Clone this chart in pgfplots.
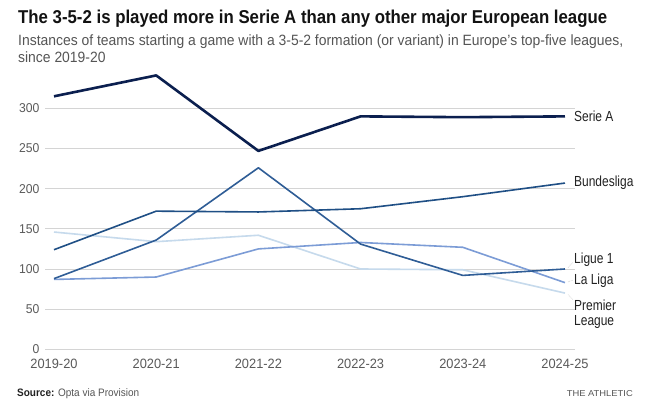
\documentclass[border=0pt]{standalone}
\usepackage{pgfplots}
\pgfplotsset{compat=1.18}
\usepackage{fontspec}
\setmainfont{Liberation Sans}
\newfontfamily\labfont{Liberation Sans}[FakeStretch=0.82]
\newfontfamily\tickfont{Liberation Sans}[FakeStretch=0.95]
\definecolor{seriea}{HTML}{0B1F4F}
\definecolor{bundes}{HTML}{1F4F85}
\definecolor{ligue}{HTML}{2F5D96}
\definecolor{laliga}{HTML}{7C9CD6}
\definecolor{premier}{HTML}{C6DAEC}
\definecolor{titlecol}{HTML}{121212}
\definecolor{subcol}{HTML}{555555}
\definecolor{tickgray}{HTML}{5A5A5A}
\definecolor{gridgray}{HTML}{D4D4D4}
\definecolor{labcol}{HTML}{222222}
\newsavebox\subbox
\begin{document}
\sbox\subbox{\color{subcol}\fontsize{14.9}{16}\selectfont Instances of teams starting a game with a 3-5-2 formation (or variant) in Europe’s top-five leagues,}%
\pgfmathsetmacro\subfac{605/\the\wd\subbox}%
\begin{tikzpicture}
\useasboundingbox (0,0) rectangle (660pt,-402pt);
\fill[white] (0,0) rectangle (660pt,-402pt);
\node[anchor=base west, inner sep=0, text=titlecol] at (18pt,-23.3pt)
  {\resizebox{589pt}{\height}{\bfseries\fontsize{18.6}{20}\selectfont The 3-5-2 is played more in Serie A than any other major European league}};
\node[anchor=base west, inner sep=0, text=subcol] at (18pt,-45.7pt)
  {\scalebox{\subfac}[1]{\usebox\subbox}};
\node[anchor=base west, inner sep=0, text=subcol] at (18pt,-62.3pt)
  {\scalebox{\subfac}[1]{\fontsize{14.9}{16}\selectfont since 2019-20}};
\node[anchor=base west, inner sep=0, text=subcol] at (17pt,-396pt)
  {\resizebox{122pt}{\height}{\fontsize{10.8}{12}\selectfont\textcolor{labcol}{\bfseries Source:} Opta via Provision}};
\node[anchor=base east, inner sep=0, text=subcol] at (633pt,-396pt)
  {\resizebox{66pt}{\height}{\fontsize{8.6}{10}\selectfont THE ATHLETIC}};
\begin{axis}[
  at={(45pt,-349.3pt)}, anchor=south west,
  scale only axis, width=530pt, height=277.1pt,
  xmin=-0.088, xmax=5.098, ymin=0, ymax=345,
  clip=false,
  axis line style={draw=none},
  tick style={draw=none},
  ymajorgrids, grid style={gridgray, line width=0.9pt},
  ytick={0,50,100,150,200,250,300},
  xtick={0,1,2,3,4,5},
  xticklabels={2019-20,2020-21,2021-22,2022-23,2023-24,2024-25},
  /pgf/number format/assume math mode=true,
  yticklabel style={font=\tickfont\fontsize{12.8}{14}\selectfont, text=tickgray, anchor=east, inner sep=0pt, xshift=-5.5pt},
  xticklabel style={font=\tickfont\fontsize{13.5}{15}\selectfont, text=tickgray, anchor=north, inner sep=0pt, yshift=-9.5pt},
  line join=round,
]
\addplot[premier, line width=1.6pt] coordinates {(0,146) (1,134) (2,142) (3,100) (4,99) (5,70)};
\addplot[laliga, line width=1.6pt] coordinates {(0,87) (1,90) (2,125) (3,133) (4,127) (5,83)};
\addplot[ligue, line width=1.6pt] coordinates {(0,88) (1,136) (2,226) (3,131) (4,92) (5,100)};
\addplot[bundes, line width=1.6pt] coordinates {(0,124) (1,172) (2,171) (3,175) (4,190) (5,207)};
\addplot[seriea, line width=2.6pt] coordinates {(0,315) (1,341) (2,247) (3,290) (4,289) (5,290)};
\draw[gray!60, densely dotted, line width=0.5pt] (axis cs:5.03,102) -- (axis cs:5.075,108);
\draw[gray!60, densely dotted, line width=0.5pt] (axis cs:5.03,84) -- (axis cs:5.075,86);
\draw[gray!60, densely dotted, line width=0.5pt] (axis cs:5.03,68) -- (axis cs:5.075,62);
\node[anchor=west, inner sep=0, text=labcol, font=\labfont\fontsize{14.6}{15}\selectfont] at (axis cs:5.088,290) {Serie A};
\node[anchor=west, inner sep=0, text=labcol, font=\labfont\fontsize{14.6}{15}\selectfont] at (axis cs:5.088,207) {Bundesliga};
\node[anchor=west, inner sep=0, text=labcol, font=\labfont\fontsize{14.6}{15}\selectfont] at (axis cs:5.088,111) {Ligue 1};
\node[anchor=west, inner sep=0, text=labcol, font=\labfont\fontsize{14.6}{15}\selectfont] at (axis cs:5.088,86) {La Liga};
\node[anchor=west, inner sep=0, text=labcol, align=left, font=\labfont\fontsize{14.6}{15}\selectfont] at (axis cs:5.088,43.5) {Premier\\League};
\end{axis}
\end{tikzpicture}
\end{document}
